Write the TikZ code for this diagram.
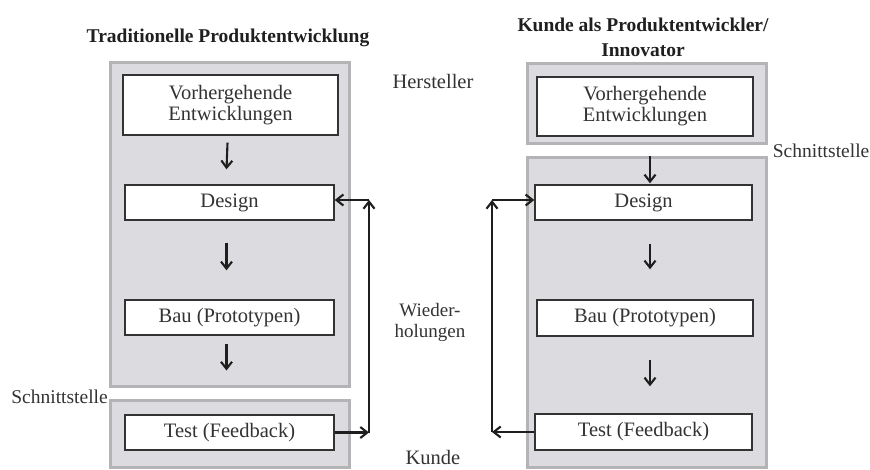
\documentclass[tikz,border=0pt]{standalone}
\usepackage{fontspec}
\setmainfont{Liberation Serif}
\usetikzlibrary{arrows.meta,calc}
\definecolor{panel}{HTML}{DCDCE0}
\definecolor{panelrim}{HTML}{B4B4B6}
\definecolor{ink}{HTML}{333333}
\definecolor{arrowink}{HTML}{1E1E1E}
\begin{document}
\begin{tikzpicture}[x=1pt,y=-1pt,
  every node/.style={text=ink, font=\fontsize{20.5}{22}\selectfont},
  panelbox/.style={draw=panelrim, fill=panel, line width=3pt, inner sep=0pt},
  stepbox/.style={draw=ink, fill=white, line width=1.4pt, inner sep=0pt, align=center},
  heading/.style={font=\fontsize{19.5}{25}\selectfont\bfseries, text=black!88, align=center},
  sidelabel/.style={font=\fontsize{20.5}{22}\selectfont},
  flow/.style={draw=arrowink, line width=2.1pt, -{Straight Barb[length=7pt,width=11pt,line width=2.1pt]}}
]
\useasboundingbox (0,0) rectangle (870,469);

% ---- left: traditional development ----
\node[heading] (tl-title) at (228,38) {Traditionelle Produktentwicklung};
\node[panelbox, minimum width=239pt, minimum height=324pt] (lmain) at (229.5,224) {};
\node[panelbox, minimum width=239pt, minimum height=67pt] (lcust) at (229.5,433.5) {};
\node[stepbox, minimum width=215pt, minimum height=60pt] (lv) at (230.5,105)
  {Vorhergehende\\[-1pt]Entwicklungen};
\node[stepbox, minimum width=209pt, minimum height=35pt] (ld) at (229.5,202.5) {Design};
\node[stepbox, minimum width=209pt, minimum height=35pt] (lb) at (229.5,317.5) {Bau (Prototypen)};
\node[stepbox, minimum width=209pt, minimum height=35pt] (lt) at (229.5,432.5) {Test (Feedback)};
\node[font=\fontsize{19.5}{22}\selectfont, anchor=east, inner sep=1pt] (lschnitt) at (109,397) {Schnittstelle};

\draw[flow] ($(lv.south)+(-3,7)$) -- ($(ld.north)+(-3,-15)$);
\draw[flow] ($(ld.south)+(-3,22)$) -- ($(lb.north)+(-3,-29)$);
\draw[flow] ($(lb.south)+(-3,8)$) -- ($(lcust.north)+(-3,-28)$);

\coordinate (lloopA) at (369,432.5);
\coordinate (lloopB) at (369,200);
\draw[flow] (lt.east) -- (lloopA);
\draw[flow] (lloopA) -- (lloopB);
\draw[flow] (lloopB) -- (ld.east |- lloopB);

% ---- middle labels ----
\node[sidelabel] (hersteller) at (433,81) {Hersteller};
\node[font=\fontsize{19}{21}\selectfont, align=center] (wdh) at (430,322) {Wieder-\\holungen};
\node[sidelabel] (kunde) at (433,457) {Kunde};

% ---- right: customer as developer ----
\node[heading] (tr-title) at (643,37) {Kunde als Produktentwickler/\\Innovator};
\node[panelbox, minimum width=239pt, minimum height=80pt] (rtop) at (646.5,103) {};
\node[panelbox, minimum width=239pt, minimum height=310pt] (rmain) at (646.5,312) {};
\node[stepbox, minimum width=216pt, minimum height=59pt] (rv) at (645,106.5)
  {Vorhergehende\\[-1pt]Entwicklungen};
\node[stepbox, minimum width=217pt, minimum height=35pt] (rd) at (643.5,202.5) {Design};
\node[stepbox, minimum width=216pt, minimum height=36pt] (rb) at (645,318) {Bau (Prototypen)};
\node[stepbox, minimum width=217pt, minimum height=36pt] (rt) at (643.5,432) {Test (Feedback)};
\node[font=\fontsize{19.5}{22}\selectfont, anchor=east, inner sep=0.5pt] (rschnitt) at (870,151) {Schnittstelle};

\draw[flow] ($(rmain.north)+(3.5,0)$) -- ($(rd.north)+(6.5,-1)$);
\draw[flow] ($(rd.south)+(6.5,23)$) -- ($(rb.north)+(5,-30)$);
\draw[flow] ($(rb.south)+(5,23)$) -- ($(rt.north)+(6.5,-27)$);

\coordinate (rloopA) at (492,432);
\coordinate (rloopB) at (492,200);
\draw[flow] (rt.west) -- (rloopA);
\draw[flow] (rloopA) -- (rloopB);
\draw[flow] (rloopB) -- (rd.west |- rloopB);
\end{tikzpicture}
\end{document}
